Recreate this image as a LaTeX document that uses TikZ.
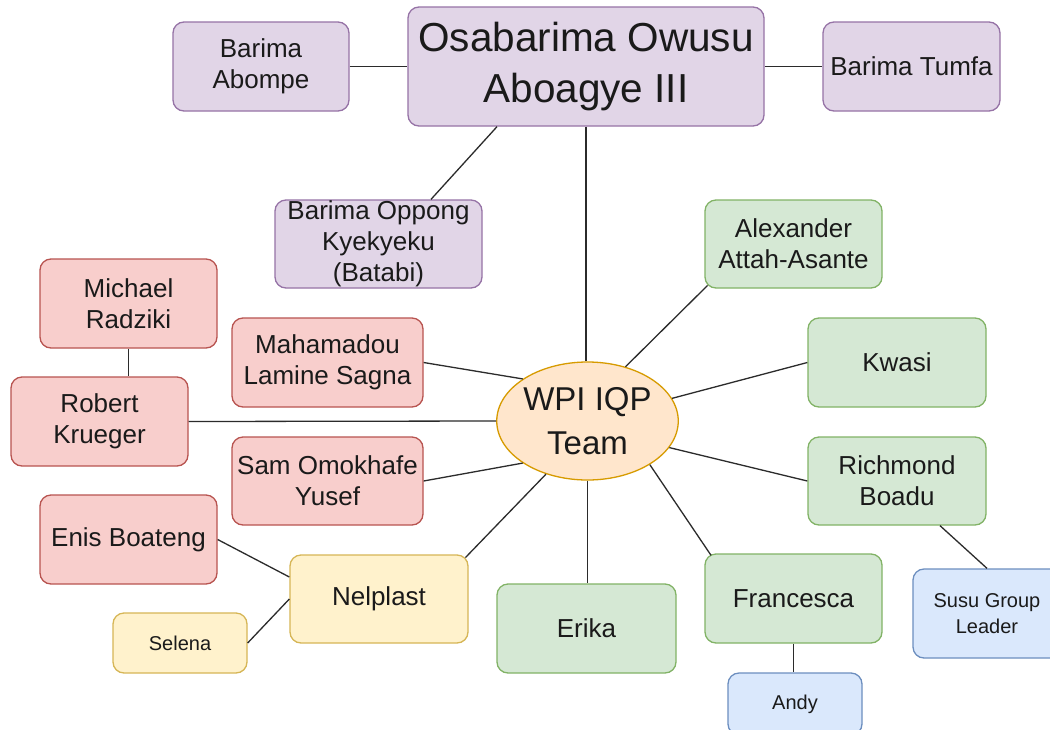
\documentclass[tikz,border=0pt]{standalone}
\usepackage{fontspec}
\setmainfont{Liberation Sans}
\usetikzlibrary{calc,shapes.geometric}
\definecolor{purF}{HTML}{E1D5E7}\definecolor{purS}{HTML}{9673A6}
\definecolor{redF}{HTML}{F8CECC}\definecolor{redS}{HTML}{B85450}
\definecolor{grnF}{HTML}{D5E8D4}\definecolor{grnS}{HTML}{82B366}
\definecolor{yelF}{HTML}{FFF2CC}\definecolor{yelS}{HTML}{D6B656}
\definecolor{bluF}{HTML}{DAE8FC}\definecolor{bluS}{HTML}{6C8EBF}
\definecolor{orgF}{HTML}{FFE6CC}\definecolor{orgS}{HTML}{D79B00}
\definecolor{txt}{HTML}{1A1A1A}
\definecolor{lnk}{HTML}{2B2B2B}
\tikzset{
  box/.style={rectangle, rounded corners=11pt, draw, line width=1.3pt, inner sep=0pt,
    align=center, text=txt, font=\fontsize{26}{31}\selectfont},
  smallbox/.style={box, font=\fontsize{20}{26}\selectfont},
  purp/.style={fill=purF, draw=purS},
  redb/.style={fill=redF, draw=redS},
  grnb/.style={fill=grnF, draw=grnS},
  yelb/.style={fill=yelF, draw=yelS},
  blub/.style={fill=bluF, draw=bluS},
  wh/.style 2 args={minimum width=#1pt, minimum height=#2pt},
  link/.style={draw=lnk, line width=1.3pt}
}
\begin{document}
\begin{tikzpicture}[x=1pt,y=-1pt]
\useasboundingbox (0,0) rectangle (1050,729);
\fill[white] (0,0) rectangle (1050,729);
\clip (0,0) rectangle (1050,729);

% nodes
\node[box,purp,wh={356}{119},font=\fontsize{40.5}{51}\selectfont] (osa) at (586,66.5) {Osabarima Owusu\\Aboagye III};
\node[box,purp,wh={176}{89}] (abompe) at (261,66.5) {Barima\\Abompe};
\node[box,purp,wh={177}{89}] (tumfa) at (911.5,66.5) {Barima Tumfa};
\node[box,purp,wh={207}{88}] (opp) at (378.5,244) {Barima Oppong\\Kyekyeku\\(Batabi)};
\node[box,grnb,wh={177}{88}] (alex) at (793.5,244) {Alexander\\Attah-Asante};
\node[box,redb,wh={177}{89}] (michael) at (128.5,303.5) {Michael\\Radziki};
\node[box,redb,wh={191}{89}] (mah) at (327.5,362.5) {Mahamadou\\Lamine Sagna};
\node[box,grnb,wh={178}{89}] (kwasi) at (897,362.5) {Kwasi};
\node[box,redb,wh={177}{89}] (robert) at (99.5,421.5) {Robert\\Krueger};
\node[ellipse, draw=orgS, fill=orgF, line width=1.3pt, inner sep=0pt, minimum width=179pt, minimum height=118pt,
  align=center, text=txt, font=\fontsize{33}{44}\selectfont] (wpi) at (587.5,421) {WPI IQP\\Team};
\node[box,redb,wh={191}{88}] (sam) at (327.5,481) {Sam Omokhafe\\Yusef};
\node[box,grnb,wh={178}{88}] (rich) at (897,481) {Richmond\\Boadu};
\node[box,redb,wh={177}{89}] (enis) at (128.5,539.5) {Enis Boateng};
\node[box,yelb,wh={178}{88}] (nel) at (379,599) {Nelplast};
\node[box,grnb,wh={179}{89}] (erika) at (586.5,628.5) {Erika};
\node[box,grnb,wh={177}{89}] (fran) at (793.5,598.5) {Francesca};
\node[smallbox,yelb,wh={134}{60}] (selena) at (180,643) {Selena};
\node[smallbox,blub,wh={148}{89}] (susu) at (987,613.5) {Susu Group\\Leader};
\node[smallbox,blub,wh={134}{62}] (andy) at (795,704) {Andy};

% connectors
\draw[link] (abompe.east) -- (osa.west);
\draw[link] (osa.east) -- (tumfa.west);
\draw[link] ($(osa.south)+(-89,0)$) -- ($(opp.north)+(52.5,0)$);
\draw[link] (osa.south) -- (osa.south |- wpi.north);
\draw[link] (wpi.55) -- ($(alex.south west)+(3.2,-3.2)$);
\draw[link] (wpi.15) -- (kwasi.west);
\draw[link] (wpi.-18) -- (rich.west);
\draw[link] (mah.east) -- (wpi.147);
\draw[link] (sam.east) -- (wpi.213);
\draw[link] (robert.east) -- (wpi.west);
\draw[link] (michael.south) -- (michael.south |- robert.north);
\draw[link] (wpi.south) -- (wpi.south |- erika.north);
\draw[link] (wpi.-35) -- ($(fran.north west)+(6.7,2)$);
\draw[link] (wpi.232) -- ($(nel.north east)+(-3.2,3.2)$);
\draw[link] (enis.east) -- ($(nel.west)+(0,-22)$);
\draw[link] (selena.east) -- (nel.west);
\draw[link] (fran.south) -- (fran.south |- andy.north);
\draw[link] ($(rich.south)+(43,0)$) -- (susu.north);
\end{tikzpicture}
\end{document}
